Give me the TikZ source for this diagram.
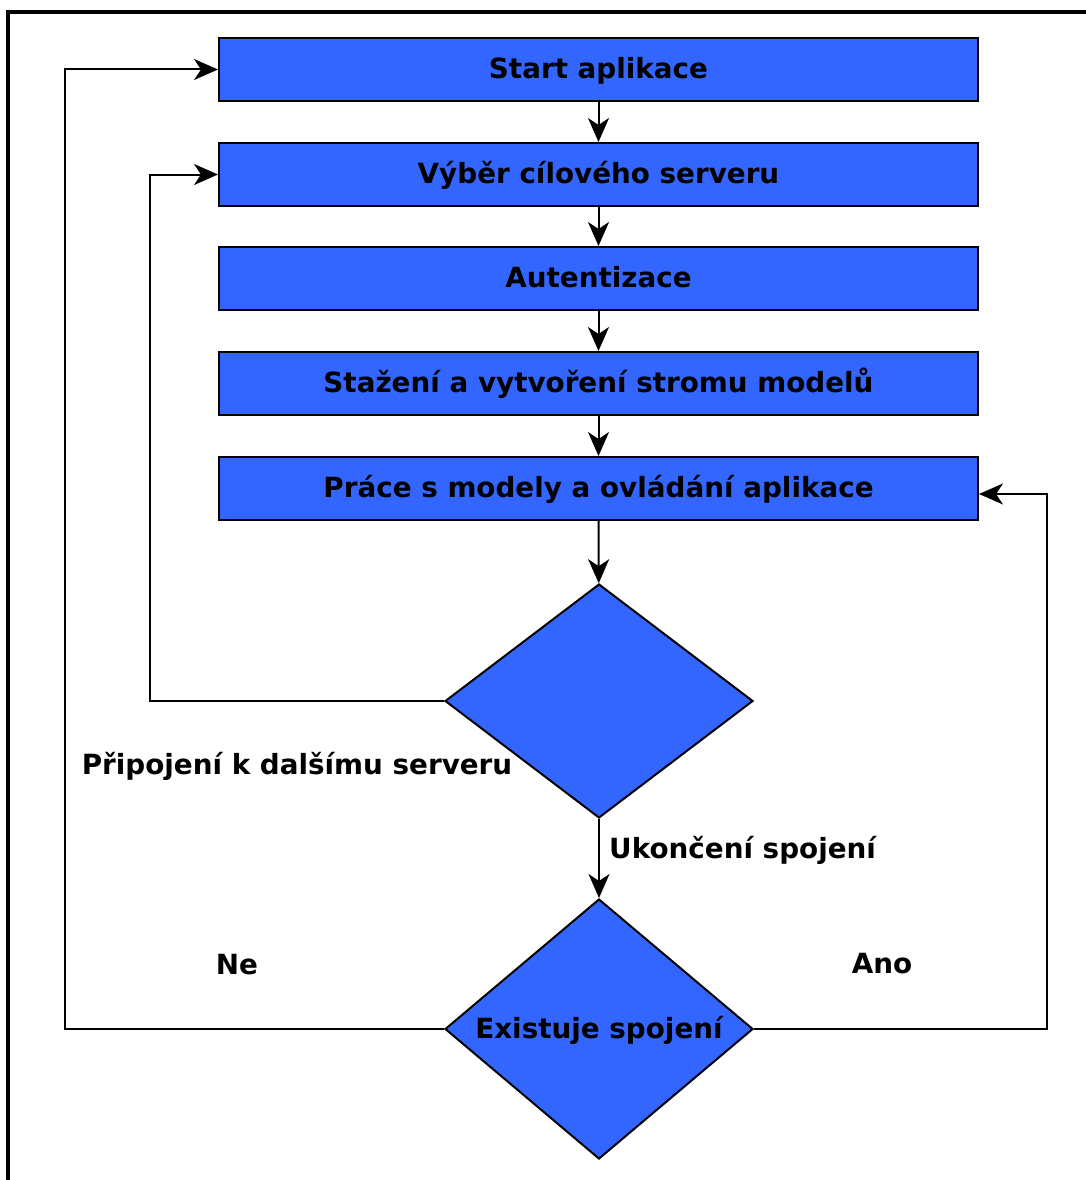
\documentclass[tikz,border=0pt]{standalone}
\usepackage{fontspec}
\setmainfont{DejaVu Sans}
\usetikzlibrary{shapes.geometric,arrows.meta}
\definecolor{boxblue}{HTML}{3366FF}
\begin{document}
\begin{tikzpicture}[x=1pt,y=-1pt,
  every node/.style={font=\bfseries\fontsize{27.8}{32}\selectfont,text height=19pt,text depth=1pt},
  procbox/.style={draw=black,line width=2pt,fill=boxblue,minimum width=759pt,minimum height=63pt,inner sep=0pt},
  decbox/.style={draw=black,line width=2pt,fill=boxblue,shape=diamond,inner sep=0pt,minimum width=308pt},
  conn/.style={line width=2pt,-{Stealth[length=24pt,width=21pt,inset=7pt]}},
  lbl/.style={inner sep=0pt}]
\useasboundingbox (0,0) rectangle (1085,1180);
\fill[white] (0,0) rectangle (1085,1180);
\draw[line width=3.5pt] (8,1200) -- (8,12) -- (1100,12);
\node[procbox] (b1) at (598.5,69.5) {Start aplikace};
\node[procbox] (b2) at (598.5,174.5) {Výběr cílového serveru};
\node[procbox] (b3) at (598.5,278.5) {Autentizace};
\node[procbox] (b4) at (598.5,383.5) {Stažení a vytvoření stromu modelů};
\node[procbox] (b5) at (598.5,488.5) {Práce s modely a ovládání aplikace};
\node[decbox,minimum height=234pt] (d1) at (599,701) {};
\node[decbox,minimum height=260pt] (d2) at (599,1029) {};
\node[lbl] (d2t) at (d2.center) {Existuje spojení};
\draw[conn] (b1) -- (b2);
\draw[conn] (b2) -- (b3);
\draw[conn] (b3) -- (b4);
\draw[conn] (b4) -- (b5);
\draw[conn] (b5) -- (d1);
\draw[conn] (d1) -- (d2);
\coordinate (l1) at (150,701);
\coordinate (l2) at (65,1029);
\coordinate (r1) at (1047,494);
\draw[conn] (d1.west) -- (l1) |- (b2.west);
\draw[conn] (d2.west) -- (l2) |- (b1.west);
\draw[conn] (d2.east) -| (r1) -- (b5.east |- r1);
\node[lbl] (t1) at (297,765) {Připojení k dalšímu serveru};
\node[lbl,anchor=west] (t2) at (609,849) {Ukončení spojení};
\node[lbl] (t3) at (237,965) {Ne};
\node[lbl] (t4) at (882,964) {Ano};
\end{tikzpicture}
\end{document}
